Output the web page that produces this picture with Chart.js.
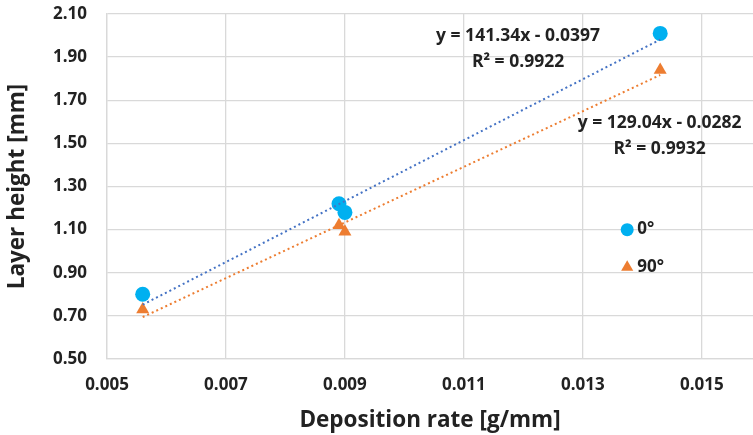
<!DOCTYPE html>
<html lang="en">
<head>
    <meta charset="UTF-8">
    <title>Layer height vs deposition rate</title>
    <script src="https://cdn.jsdelivr.net/npm/chart.js"></script>
    <style>
        body {
            margin: 0;
            background: #ffffff;
        }
        .chart-box {
            width: 753px;
            height: 435px;
        }
    </style>
</head>
<body>
    <div class="chart-box">
        <canvas id="layerChart"></canvas>
    </div>

    <script>
        // Measured points: deposition rate [g/mm] vs layer height [mm]
        const depositionRate = [0.0056, 0.0089, 0.0090, 0.0143];
        const height0 = [0.80, 1.22, 1.18, 2.01];
        const height90 = [0.73, 1.12, 1.09, 1.84];

        // Linear fits (slope, intercept, R²)
        const fit0 = [141.34, -0.0397, 0.9922];
        const fit90 = [129.04, -0.0282, 0.9932];

        // Axis ticks
        const xTicks = [0.005, 0.007, 0.009, 0.011, 0.013, 0.015];
        const yTicks = [0.50, 0.70, 0.90, 1.10, 1.30, 1.50, 1.70, 1.90, 2.10];

        const textColor = '#222222';
        const gridColor = '#d9d9d9';
        const fontFamily = "'Open Sans', sans-serif";

        // trendline spans the measured x range
        function trend(fit) {
            const xMin = Math.min(...depositionRate);
            const xMax = Math.max(...depositionRate);
            return [
                { x: xMin, y: fit[0] * xMin + fit[1] },
                { x: xMax, y: fit[0] * xMax + fit[1] }
            ];
        }

        function points(ys) {
            return depositionRate.map((x, i) => ({ x: x, y: ys[i] }));
        }

        // equation boxes (data coordinates of the first line's centre)
        const equations = [
            { fit: fit0, at: [0.01191, 2.00] },
            { fit: fit90, at: [0.01429, 1.595] }
        ];

        // small legend sitting inside the plot area
        const legendItems = [
            { label: '0°', style: 'circle', color: '#00b0f0', radius: 6.5, at: [0.013745, 1.10] },
            { label: '90°', style: 'triangle', color: '#ed7d31', radius: 7, at: [0.013745, 0.925] }
        ];

        const chartText = {
            id: 'chartText',
            afterDatasetsDraw(chart) {
                const { ctx, scales: { x, y } } = chart;
                ctx.save();
                ctx.fillStyle = textColor;
                ctx.textBaseline = 'middle';

                ctx.font = 'bold 17.5px ' + fontFamily;
                ctx.textAlign = 'center';
                equations.forEach(eq => {
                    const px = x.getPixelForValue(eq.at[0]);
                    const py = y.getPixelForValue(eq.at[1]);
                    const sign = eq.fit[1] < 0 ? ' - ' : ' + ';
                    ctx.fillText('y = ' + eq.fit[0].toFixed(2) + 'x' + sign + Math.abs(eq.fit[1]).toFixed(4), px, py);
                    ctx.fillText('R² = ' + eq.fit[2].toFixed(4), px, py + 26);
                });

                ctx.font = 'bold 17px ' + fontFamily;
                ctx.textAlign = 'left';
                legendItems.forEach(item => {
                    const px = x.getPixelForValue(item.at[0]);
                    const py = y.getPixelForValue(item.at[1]);
                    ctx.fillStyle = item.color;
                    ctx.strokeStyle = item.color;
                    Chart.helpers.drawPoint(ctx, {
                        pointStyle: item.style,
                        radius: item.radius,
                        rotation: 0,
                        borderWidth: 0
                    }, px, py);
                    ctx.fillStyle = textColor;
                    ctx.fillText(item.label, px + 10, py);
                });
                ctx.restore();
            }
        };

        const ctx = document.getElementById('layerChart').getContext('2d');
        new Chart(ctx, {
            type: 'scatter',
            data: {
                datasets: [
                    {
                        label: '0° trend',
                        data: trend(fit0),
                        showLine: true,
                        borderColor: '#4472c4',
                        borderWidth: 2,
                        borderDash: [2, 3],
                        pointRadius: 0
                    },
                    {
                        label: '90° trend',
                        data: trend(fit90),
                        showLine: true,
                        borderColor: '#ed7d31',
                        borderWidth: 2,
                        borderDash: [2, 3],
                        pointRadius: 0
                    },
                    {
                        label: '0°',
                        data: points(height0),
                        pointStyle: 'circle',
                        pointRadius: 7.5,
                        backgroundColor: '#00b0f0',
                        borderColor: '#00b0f0',
                        borderWidth: 0
                    },
                    {
                        label: '90°',
                        data: points(height90),
                        pointStyle: 'triangle',
                        pointRadius: 7.5,
                        backgroundColor: '#ed7d31',
                        borderColor: '#ed7d31',
                        borderWidth: 0
                    }
                ]
            },
            options: {
                responsive: true,
                maintainAspectRatio: false,
                animation: false,
                events: [],
                layout: {
                    autoPadding: false,
                    padding: { top: 14, right: 0, bottom: 0, left: 0 }
                },
                plugins: {
                    legend: { display: false },
                    tooltip: { enabled: false }
                },
                scales: {
                    x: {
                        type: 'linear',
                        min: 0.005,
                        max: 0.01586,
                        afterBuildTicks: axis => {
                            axis.ticks = xTicks.map(v => ({ value: v }));
                        },
                        afterFit: axis => {
                            axis.height = 76;
                            axis.paddingLeft = 0;
                            axis.paddingRight = 0;
                        },
                        grid: { color: gridColor, lineWidth: 1.3, drawTicks: false },
                        border: { color: gridColor, width: 1.3 },
                        ticks: {
                            color: textColor,
                            padding: 16,
                            maxRotation: 0,
                            font: { family: fontFamily, size: 17, weight: 'bold' },
                            callback: v => v.toFixed(3)
                        },
                        title: {
                            display: true,
                            text: 'Deposition rate [g/mm]',
                            color: textColor,
                            padding: { top: 0, bottom: 1 },
                            font: { family: fontFamily, size: 22.5, weight: 'bold' }
                        }
                    },
                    y: {
                        type: 'linear',
                        min: 0.5,
                        max: 2.1,
                        afterBuildTicks: axis => {
                            axis.ticks = yTicks.map(v => ({ value: v }));
                        },
                        afterFit: axis => {
                            axis.width = 107;
                            axis.paddingTop = 0;
                            axis.paddingBottom = 0;
                        },
                        grid: { color: gridColor, lineWidth: 1.3, drawTicks: false },
                        border: { color: gridColor, width: 1.3 },
                        ticks: {
                            color: textColor,
                            padding: 20,
                            font: { family: fontFamily, size: 17, weight: 'bold' },
                            callback: v => v.toFixed(2)
                        },
                        title: {
                            display: true,
                            text: 'Layer height [mm]',
                            color: textColor,
                            padding: { top: 4, bottom: 0 },
                            font: { family: fontFamily, size: 22.5, weight: 'bold' }
                        }
                    }
                }
            },
            plugins: [chartText]
        });
    </script>
</body>
</html>
